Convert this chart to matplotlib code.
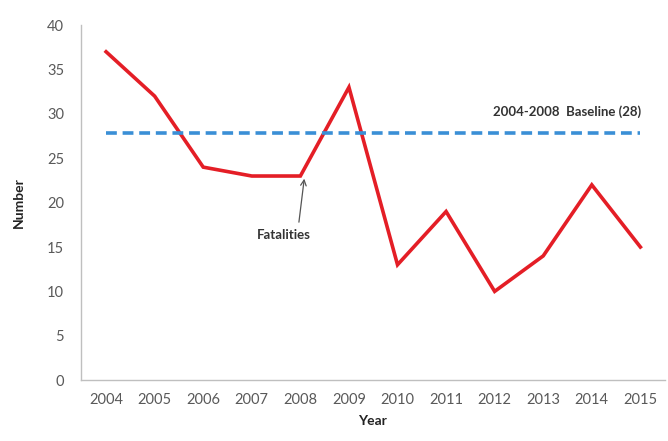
import matplotlib
matplotlib.use('Agg')
import matplotlib.pyplot as plt
import numpy as np

# Fatalities per year
years = ['2004', '2005', '2006', '2007', '2008', '2009', '2010', '2011', '2012', '2013', '2014', '2015']
fatalities = [37, 32, 24, 23, 23, 33, 13, 19, 10, 14, 22, 15]
baseline_years = ['2004', '2005', '2006', '2007', '2008']
baseline = np.mean([fatalities[years.index(y)] for y in baseline_years])

plt.rcParams['font.family'] = ['Lato', 'DejaVu Sans']

fig = plt.figure(figsize=(6.68, 4.41), dpi=100)
ax = fig.add_axes([0.121, 0.138, 0.874, 0.805])

x = np.arange(len(years))
ax.plot(x, fatalities, color='#E41E26', lw=2.6, solid_joinstyle='miter')
ax.plot([x[0], x[-1]], [baseline, baseline], color='#3A8FD6', lw=2.6,
        dashes=(3, 1.6))

ax.text(9.5, 29.5, '%s-%s  Baseline (%d)' % (baseline_years[0], baseline_years[-1], round(baseline)),
        ha='center', va='bottom', fontsize=9.5, fontweight='bold', color='#333333')

# label for the red line, with a near-vertical arrow pointing at 2008
ax.text(3.65, 16.3, 'Fatalities', ha='center', va='center', fontsize=9.5,
        fontweight='bold', color='#333333')
ax.annotate('', xy=(x[4] + 0.08, fatalities[4] - 0.3), xytext=(3.97, 17.8),
            arrowprops=dict(arrowstyle='->', color='#555555', lw=0.9,
                            shrinkA=0, shrinkB=0))

ax.set_xlim(-0.52, 11.5)
ax.set_ylim(0, 40)
ax.set_xticks(x)
ax.set_xticklabels(years)
ax.set_yticks(range(0, 41, 5))
ax.tick_params(length=0, labelsize=10.5, labelcolor='#595959', pad=9)
ax.tick_params(axis='y', pad=12)

for s in ['top', 'right']:
    ax.spines[s].set_visible(False)
for s in ['left', 'bottom']:
    ax.spines[s].set_color('#BFBFBF')
    ax.spines[s].set_linewidth(1)

ax.set_xlabel('Year', fontsize=10, fontweight='bold', color='#222222', labelpad=6)
ax.set_ylabel('Number', fontsize=10, fontweight='bold', color='#222222', labelpad=16)

fig.savefig('out.png', dpi=100)
